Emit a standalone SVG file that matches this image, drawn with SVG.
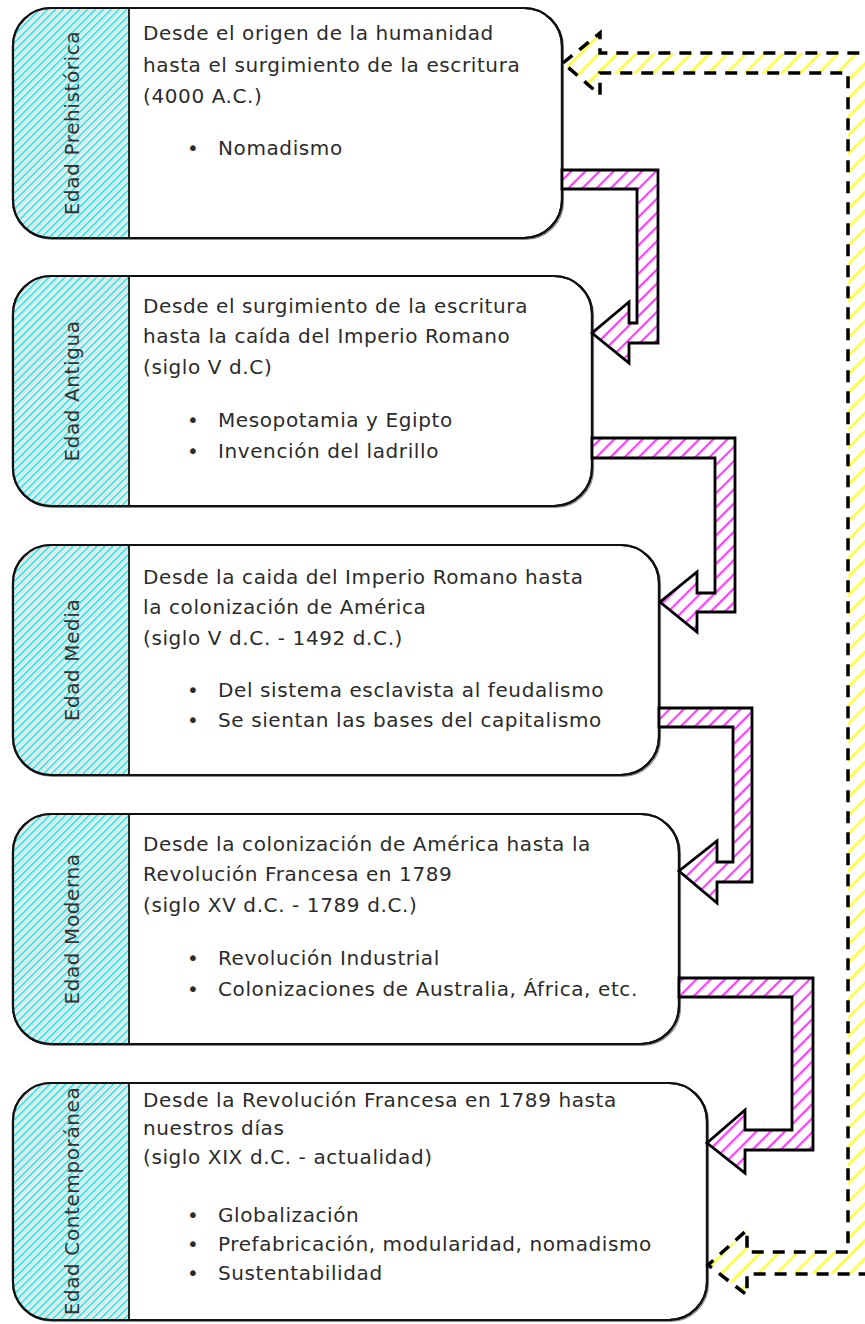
<svg xmlns="http://www.w3.org/2000/svg" width="865" height="1324" viewBox="0 0 865 1324">
  <style>
    .box { fill: #ffffff; stroke: #111; stroke-width: 2.2; }
    .shadow { fill: none; stroke: #8a8a8a; stroke-width: 1.2; }
    .divider { stroke: #111; stroke-width: 1.8; }
    .txt { font-family: "DejaVu Sans", "Liberation Sans", sans-serif; font-size: 20px; letter-spacing: 0.6px; fill: #2b2b2b; }
    .lbl { font-family: "DejaVu Sans", "Liberation Sans", sans-serif; font-size: 20px; letter-spacing: 0.6px; fill: #333; text-anchor: middle; }
    .flow { fill: url(#pinkHatch); stroke: #000; stroke-width: 2.8; stroke-linejoin: miter; }
    .loop { fill: url(#yellowHatch); stroke: #000; stroke-width: 3.5; stroke-dasharray: 12 9; stroke-linejoin: miter; }
  </style>
  <defs>
    <pattern id="cyanHatch" width="8" height="5.6" patternUnits="userSpaceOnUse" patternTransform="rotate(-45)">
      <rect width="8" height="5.6" fill="#ffffff"/>
      <line x1="0" y1="1.2" x2="8" y2="1.2" stroke="#30e3e3" stroke-width="2"/>
      <line x1="0" y1="4" x2="8" y2="4" stroke="#cfcfcf" stroke-width="1"/>
    </pattern>
    <pattern id="pinkHatch" width="10" height="10" patternUnits="userSpaceOnUse" patternTransform="rotate(-45)">
      <rect width="10" height="10" fill="#ffffff"/>
      <line x1="0" y1="5" x2="10" y2="5" stroke="#ff3dff" stroke-width="2.2"/>
    </pattern>
    <pattern id="yellowHatch" width="13" height="13" patternUnits="userSpaceOnUse" patternTransform="rotate(-45)">
      <rect width="13" height="13" fill="#ffffff"/>
      <line x1="0" y1="6.5" x2="13" y2="6.5" stroke="#ffff1a" stroke-width="2.2"/>
    </pattern>
    <clipPath id="c1"><rect x="13" y="8" width="549" height="230" rx="38"/></clipPath>
    <clipPath id="c2"><rect x="13" y="276" width="579" height="230" rx="38"/></clipPath>
    <clipPath id="c3"><rect x="13" y="545" width="646" height="230" rx="38"/></clipPath>
    <clipPath id="c4"><rect x="13" y="814" width="666" height="230" rx="38"/></clipPath>
    <clipPath id="c5"><rect x="13" y="1083" width="694" height="237" rx="38"/></clipPath>
  </defs>

  <rect width="865" height="1324" fill="#ffffff"/>

  <!-- Edad Prehistórica -->
  <g id="node-prehistorica">
    <rect class="shadow" x="14.5" y="9.5" width="549" height="230" rx="38"/>
    <rect class="box" x="13" y="8" width="549" height="230" rx="38"/>
    <rect x="13" y="8" width="116" height="230" fill="url(#cyanHatch)" clip-path="url(#c1)"/>
    <rect x="13" y="8" width="549" height="230" rx="38" fill="none" stroke="#111" stroke-width="2.2"/>
    <line class="divider" x1="129" y1="8" x2="129" y2="238"/>
    <text class="lbl" transform="translate(79,123) rotate(-90)">Edad Prehistórica</text>
    <text class="txt" x="143" y="40">Desde el origen de la humanidad</text>
    <text class="txt" x="143" y="72">hasta el surgimiento de la escritura</text>
    <text class="txt" x="143" y="103">(4000 A.C.)</text>
    <text class="txt" x="187" y="155">•</text>
    <text class="txt" x="218" y="155">Nomadismo</text>
  </g>

  <!-- Edad Antigua -->
  <g id="node-antigua">
    <rect class="shadow" x="14.5" y="277.5" width="579" height="230" rx="38"/>
    <rect class="box" x="13" y="276" width="579" height="230" rx="38"/>
    <rect x="13" y="276" width="116" height="230" fill="url(#cyanHatch)" clip-path="url(#c2)"/>
    <rect x="13" y="276" width="579" height="230" rx="38" fill="none" stroke="#111" stroke-width="2.2"/>
    <line class="divider" x1="129" y1="276" x2="129" y2="506"/>
    <text class="lbl" transform="translate(79,391) rotate(-90)">Edad Antigua</text>
    <text class="txt" x="143" y="313">Desde el surgimiento de la escritura</text>
    <text class="txt" x="143" y="343">hasta la caída del Imperio Romano</text>
    <text class="txt" x="143" y="374">(siglo V d.C)</text>
    <text class="txt" x="187" y="427">•</text>
    <text class="txt" x="218" y="427">Mesopotamia y Egipto</text>
    <text class="txt" x="187" y="458">•</text>
    <text class="txt" x="218" y="458">Invención del ladrillo</text>
  </g>

  <!-- Edad Media -->
  <g id="node-media">
    <rect class="shadow" x="14.5" y="546.5" width="646" height="230" rx="38"/>
    <rect class="box" x="13" y="545" width="646" height="230" rx="38"/>
    <rect x="13" y="545" width="116" height="230" fill="url(#cyanHatch)" clip-path="url(#c3)"/>
    <rect x="13" y="545" width="646" height="230" rx="38" fill="none" stroke="#111" stroke-width="2.2"/>
    <line class="divider" x1="129" y1="545" x2="129" y2="775"/>
    <text class="lbl" transform="translate(79,660) rotate(-90)">Edad Media</text>
    <text class="txt" x="143" y="584">Desde la caida del Imperio Romano hasta</text>
    <text class="txt" x="143" y="614">la colonización de América</text>
    <text class="txt" x="143" y="645">(siglo V d.C. - 1492 d.C.)</text>
    <text class="txt" x="187" y="697">•</text>
    <text class="txt" x="218" y="697">Del sistema esclavista al feudalismo</text>
    <text class="txt" x="187" y="727">•</text>
    <text class="txt" x="218" y="727">Se sientan las bases del capitalismo</text>
  </g>

  <!-- Edad Moderna -->
  <g id="node-moderna">
    <rect class="shadow" x="14.5" y="815.5" width="666" height="230" rx="38"/>
    <rect class="box" x="13" y="814" width="666" height="230" rx="38"/>
    <rect x="13" y="814" width="116" height="230" fill="url(#cyanHatch)" clip-path="url(#c4)"/>
    <rect x="13" y="814" width="666" height="230" rx="38" fill="none" stroke="#111" stroke-width="2.2"/>
    <line class="divider" x1="129" y1="814" x2="129" y2="1044"/>
    <text class="lbl" transform="translate(79,929) rotate(-90)">Edad Moderna</text>
    <text class="txt" x="143" y="851">Desde la colonización de América hasta la</text>
    <text class="txt" x="143" y="881">Revolución Francesa en 1789</text>
    <text class="txt" x="143" y="912">(siglo XV d.C. - 1789 d.C.)</text>
    <text class="txt" x="187" y="965">•</text>
    <text class="txt" x="218" y="965">Revolución Industrial</text>
    <text class="txt" x="187" y="996">•</text>
    <text class="txt" x="218" y="996">Colonizaciones de Australia, África, etc.</text>
  </g>

  <!-- Edad Contemporánea -->
  <g id="node-contemporanea">
    <rect class="shadow" x="14.5" y="1084.5" width="694" height="237" rx="38"/>
    <rect class="box" x="13" y="1083" width="694" height="237" rx="38"/>
    <rect x="13" y="1083" width="116" height="237" fill="url(#cyanHatch)" clip-path="url(#c5)"/>
    <rect x="13" y="1083" width="694" height="237" rx="38" fill="none" stroke="#111" stroke-width="2.2"/>
    <line class="divider" x1="129" y1="1083" x2="129" y2="1320"/>
    <text class="lbl" transform="translate(79,1201) rotate(-90)">Edad Contemporánea</text>
    <text class="txt" x="143" y="1107">Desde la Revolución Francesa en 1789 hasta</text>
    <text class="txt" x="143" y="1135">nuestros días</text>
    <text class="txt" x="143" y="1164">(siglo XIX d.C. - actualidad)</text>
    <text class="txt" x="187" y="1222">•</text>
    <text class="txt" x="218" y="1222">Globalización</text>
    <text class="txt" x="187" y="1251">•</text>
    <text class="txt" x="218" y="1251">Prefabricación, modularidad, nomadismo</text>
    <text class="txt" x="187" y="1280">•</text>
    <text class="txt" x="218" y="1280">Sustentabilidad</text>
  </g>

  <!-- Connectors: hatched block arrows between consecutive ages, dashed return loop -->
  <g id="connectors">
    <path class="flow" d="M562,170 H658 V343 H629 V363 L592,333 L629,302 V323 H637 V189 H562 Z"/>
    <path class="flow" d="M592,438 H735 V612 H697 V632 L660,602 L697,572 V593 H715 V458 H592 Z"/>
    <path class="flow" d="M659,708 H752 V882 H717 V903 L679,871 L717,841 V862 H733 V727 H659 Z"/>
    <path class="flow" d="M679,978 H813 V1150 H745 V1173 L707,1143 L745,1110 V1130 H792 V997 H679 Z"/>
    <path class="loop" d="M563,63 L600,33 V53 H868 V1274 H747 V1295 L708,1265 L747,1230 V1252 H848 V73 H600 V95 Z"/>
  </g>
</svg>
